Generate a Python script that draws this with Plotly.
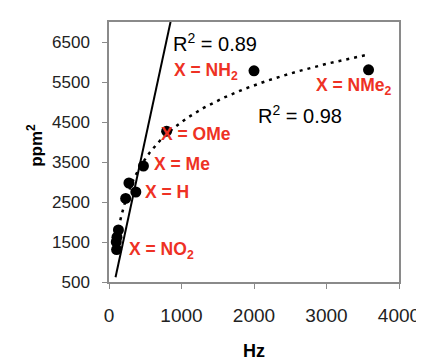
import numpy as np
import plotly.graph_objects as go

# Data
hz = [105, 100, 110, 130, 230, 275, 370, 475, 795, 2000, 3580]
ppm2 = [1310, 1500, 1620, 1800, 2590, 2975, 2750, 3400, 4270, 5780, 5805]

# Trendlines (coefficients)
lin_slope, lin_int = 8.41, -137.0      # linear fit, R2 = 0.89
log_a, log_b = 1323.0, -4639.0         # logarithmic fit, R2 = 0.98
lin_x_range = [90, 849]
log_x_range = [100, 3580]

labels = ["X = NH<sub>2</sub>", "X = NMe<sub>2</sub>", "X = OMe", "X = Me", "X = H", "X = NO<sub>2</sub>"]
label_pos = [(1340, 5770), (3380, 5380), (1200, 4200), (1000, 3450), (800, 2750), (730, 1300)]

x_ticks = [0, 1000, 2000, 3000, 4000]
y_ticks = [500, 1500, 2500, 3500, 4500, 5500, 6500]

FONT = "Liberation Sans, Arial, sans-serif"
RED = "#ee3124"

fig = go.Figure()

xl = np.linspace(lin_x_range[0], lin_x_range[1], 50)
fig.add_trace(go.Scatter(x=xl, y=lin_slope * xl + lin_int, mode="lines",
                         line=dict(color="black", width=2), hoverinfo="skip"))

xg = np.linspace(log_x_range[0], log_x_range[1], 300)
fig.add_trace(go.Scatter(x=xg, y=log_a * np.log(xg) + log_b, mode="lines",
                         line=dict(color="black", width=2.5, dash="3px,5px"), hoverinfo="skip"))

fig.add_trace(go.Scatter(x=hz, y=ppm2, mode="markers",
                         marker=dict(color="black", size=11)))

for t, (lx, ly) in zip(labels, label_pos):
    fig.add_annotation(x=lx, y=ly, text=t, showarrow=False,
                       font=dict(family=FONT, size=17.5, color=RED, weight="bold"))

fig.add_annotation(x=1465, y=6500, text="R<sup>2</sup> = 0.89", showarrow=False,
                   font=dict(family=FONT, size=20, color="black"))
fig.add_annotation(x=2635, y=4680, text="R<sup>2</sup> = 0.98", showarrow=False,
                   font=dict(family=FONT, size=20, color="black"))

# y-axis title
fig.add_annotation(xref="paper", yref="paper", x=-0.255, y=0.524, text="<b>ppm<sup>2</sup></b>",
                   textangle=-90, showarrow=False, xanchor="center", yanchor="middle",
                   font=dict(family=FONT, size=17, color="black"))

axis_common = dict(showline=True, linecolor="#8a8a8a", linewidth=1.5, mirror=True,
                   ticks="outside", ticklen=5, tickcolor="#8a8a8a", showgrid=False,
                   zeroline=False)

fig.update_xaxes(range=[0, 4000], tickvals=x_ticks, **axis_common,
                 tickfont=dict(family=FONT, size=19, color="#222"),
                 title=dict(text="<b>Hz</b>", font=dict(family=FONT, size=18, color="black"), standoff=20),
                 ticklabelstandoff=10)
fig.update_yaxes(range=[500, 7000], tickvals=y_ticks, **axis_common,
                 tickfont=dict(family=FONT, size=17, color="#222"),
                 ticklabelstandoff=9)

fig.update_layout(width=424, height=362, showlegend=False,
                  plot_bgcolor="white", paper_bgcolor="white",
                  margin=dict(l=101, r=26, t=12, b=79))

fig.write_html("out.html")
